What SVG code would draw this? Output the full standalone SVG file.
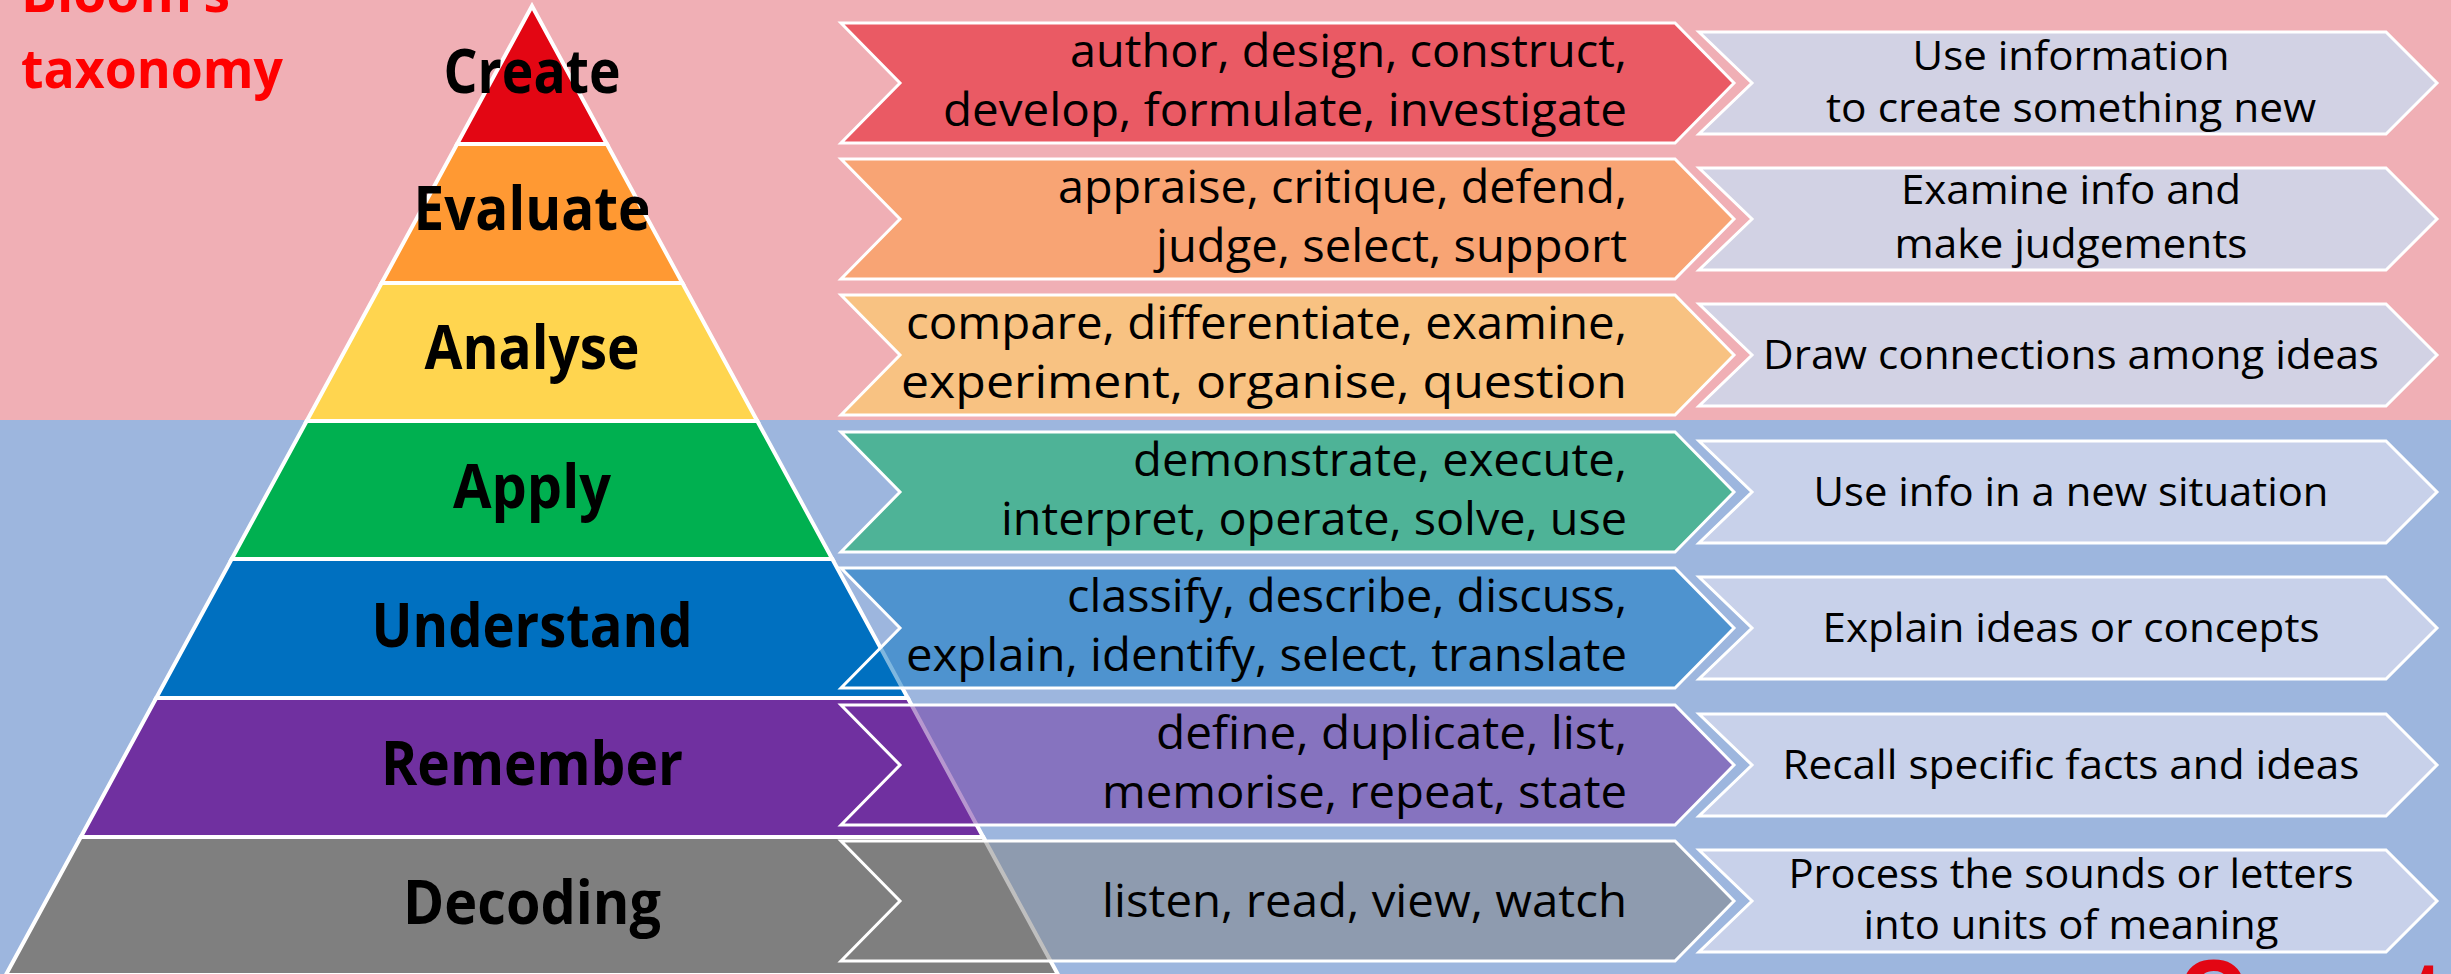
<svg xmlns="http://www.w3.org/2000/svg" width="2451" height="974" viewBox="0 0 2451 974">
<style>
.lbl{font-family:"Open Sans","Liberation Sans",sans-serif;font-weight:700;font-size:60px;fill:#000;text-anchor:middle}
.vb{font-family:"Open Sans","Liberation Sans",sans-serif;font-size:46px;fill:#000;text-anchor:end}
.ds{font-family:"Open Sans","Liberation Sans",sans-serif;font-size:40px;fill:#000;text-anchor:middle}
.ttl{font-family:"Open Sans","Liberation Sans",sans-serif;font-weight:700;font-size:54px;fill:#ff0000}
.band{stroke:#fff;stroke-width:4;stroke-linejoin:miter}
.vc{fill-opacity:0.5;stroke:#fff;stroke-width:3}
.dp{fill:#d2d2e4;stroke:#fff;stroke-width:3}
.db{fill:#c8d1ea;stroke:#fff;stroke-width:3}
</style>
<rect x="0" y="0" width="2451" height="420" fill="#f0afb5"/>
<rect x="0" y="420" width="2451" height="554" fill="#9db6de"/>

<g id="title">
<text class="ttl" x="21" y="12" textLength="209" lengthAdjust="spacingAndGlyphs">Bloom’s</text>
<text class="ttl" x="21" y="88" textLength="262" lengthAdjust="spacingAndGlyphs">taxonomy</text>
</g>

<g id="pyramid">
<g id="level-create"><polygon class="band" fill="#e30613" points="532,6 606.9,144 457.1,144"/></g>
<g id="level-evaluate"><polygon class="band" fill="#ff9933" points="457.1,144 606.9,144 682.4,283 381.6,283"/></g>
<g id="level-analyse"><polygon class="band" fill="#ffd54f" points="381.6,283 682.4,283 757.3,421 306.7,421"/></g>
<g id="level-apply"><polygon class="band" fill="#00b050" points="306.7,421 757.3,421 832.3,559 231.7,559"/></g>
<g id="level-understand"><polygon class="band" fill="#0070c0" points="231.7,559 832.3,559 907.8,698 156.2,698"/></g>
<g id="level-remember"><polygon class="band" fill="#7030a0" points="156.2,698 907.8,698 983.2,837 80.8,837"/></g>
<g id="level-decoding"><polygon class="band" fill="#7f7f7f" points="80.8,837 983.2,837 1058.2,975 5.8,975"/></g>
</g>

<g id="verbs">
<g id="verbs-create"><polygon class="vc" fill="#e30613" points="841,23 1675,23 1734,83 1675,143 841,143 900,83"/>
<text class="vb" x="1627" y="67" textLength="557" lengthAdjust="spacingAndGlyphs">author, design, construct,</text>
<text class="vb" x="1627" y="126" textLength="684" lengthAdjust="spacingAndGlyphs">develop, formulate, investigate</text></g>
<g id="verbs-evaluate"><polygon class="vc" fill="#ff9933" points="841,159 1675,159 1734,219 1675,279 841,279 900,219"/>
<text class="vb" x="1627" y="203" textLength="569" lengthAdjust="spacingAndGlyphs">appraise, critique, defend,</text>
<text class="vb" x="1627" y="262" textLength="471" lengthAdjust="spacingAndGlyphs">judge, select, support</text></g>
<g id="verbs-analyse"><polygon class="vc" fill="#ffd54f" points="841,295 1675,295 1734,355 1675,415 841,415 900,355"/>
<text class="vb" x="1627" y="339" textLength="721" lengthAdjust="spacingAndGlyphs">compare, differentiate, examine,</text>
<text class="vb" x="1627" y="398" textLength="726" lengthAdjust="spacingAndGlyphs">experiment, organise, question</text></g>
<g id="verbs-apply"><polygon class="vc" fill="#00b050" points="841,432 1675,432 1734,492 1675,552 841,552 900,492"/>
<text class="vb" x="1627" y="476" textLength="494" lengthAdjust="spacingAndGlyphs">demonstrate, execute,</text>
<text class="vb" x="1627" y="535" textLength="626" lengthAdjust="spacingAndGlyphs">interpret, operate, solve, use</text></g>
<g id="verbs-understand"><polygon class="vc" fill="#0070c0" points="841,568 1675,568 1734,628 1675,688 841,688 900,628"/>
<text class="vb" x="1627" y="612" textLength="560" lengthAdjust="spacingAndGlyphs">classify, describe, discuss,</text>
<text class="vb" x="1627" y="671" textLength="721" lengthAdjust="spacingAndGlyphs">explain, identify, select, translate</text></g>
<g id="verbs-remember"><polygon class="vc" fill="#7030a0" points="841,705 1675,705 1734,765 1675,825 841,825 900,765"/>
<text class="vb" x="1627" y="749" textLength="471" lengthAdjust="spacingAndGlyphs">define, duplicate, list,</text>
<text class="vb" x="1627" y="808" textLength="525" lengthAdjust="spacingAndGlyphs">memorise, repeat, state</text></g>
<g id="verbs-decoding"><polygon class="vc" fill="#7f7f7f" points="841,841 1675,841 1734,901 1675,961 841,961 900,901"/>
<text class="vb" x="1627" y="917" textLength="525" lengthAdjust="spacingAndGlyphs">listen, read, view, watch</text></g>
</g>

<g id="descriptions">
<g id="desc-create"><polygon class="dp" points="1699,32 2386,32 2437,83 2386,134 1699,134 1752,83"/>
<text class="ds" x="2071" y="70" textLength="317" lengthAdjust="spacingAndGlyphs">Use information</text>
<text class="ds" x="2071" y="122" textLength="490" lengthAdjust="spacingAndGlyphs">to create something new</text></g>
<g id="desc-evaluate"><polygon class="dp" points="1699,168 2386,168 2437,219 2386,270 1699,270 1752,219"/>
<text class="ds" x="2071" y="204" textLength="340" lengthAdjust="spacingAndGlyphs">Examine info and</text>
<text class="ds" x="2071" y="258" textLength="353" lengthAdjust="spacingAndGlyphs">make judgements</text></g>
<g id="desc-analyse"><polygon class="dp" points="1699,304 2386,304 2437,355 2386,406 1699,406 1752,355"/>
<text class="ds" x="2071" y="369" textLength="616" lengthAdjust="spacingAndGlyphs">Draw connections among ideas</text></g>
<g id="desc-apply"><polygon class="db" points="1699,441 2386,441 2437,492 2386,543 1699,543 1752,492"/>
<text class="ds" x="2071" y="506" textLength="515" lengthAdjust="spacingAndGlyphs">Use info in a new situation</text></g>
<g id="desc-understand"><polygon class="db" points="1699,577 2386,577 2437,628 2386,679 1699,679 1752,628"/>
<text class="ds" x="2071" y="642" textLength="497" lengthAdjust="spacingAndGlyphs">Explain ideas or concepts</text></g>
<g id="desc-remember"><polygon class="db" points="1699,714 2386,714 2437,765 2386,816 1699,816 1752,765"/>
<text class="ds" x="2071" y="779" textLength="577" lengthAdjust="spacingAndGlyphs">Recall specific facts and ideas</text></g>
<g id="desc-decoding"><polygon class="db" points="1699,850 2386,850 2437,901 2386,952 1699,952 1752,901"/>
<text class="ds" x="2071" y="888" textLength="565" lengthAdjust="spacingAndGlyphs">Process the sounds or letters</text>
<text class="ds" x="2071" y="939" textLength="415" lengthAdjust="spacingAndGlyphs">into units of meaning</text></g>
</g>

<g id="pyramid-labels">
<text class="lbl" x="532" y="93" textLength="177" lengthAdjust="spacingAndGlyphs">Create</text>
<text class="lbl" x="532" y="230" textLength="237" lengthAdjust="spacingAndGlyphs">Evaluate</text>
<text class="lbl" x="532" y="369" textLength="215" lengthAdjust="spacingAndGlyphs">Analyse</text>
<text class="lbl" x="532" y="508" textLength="158" lengthAdjust="spacingAndGlyphs">Apply</text>
<text class="lbl" x="532" y="647" textLength="321" lengthAdjust="spacingAndGlyphs">Understand</text>
<text class="lbl" x="532" y="785" textLength="302" lengthAdjust="spacingAndGlyphs">Remember</text>
<text class="lbl" x="532" y="924" textLength="258" lengthAdjust="spacingAndGlyphs">Decoding</text>
</g>

<g id="footer">
<text x="2177" y="1026" font-family="'Open Sans','Liberation Sans',sans-serif" font-weight="700" font-size="92" fill="#e30613">Questions</text>
</g>
</svg>
